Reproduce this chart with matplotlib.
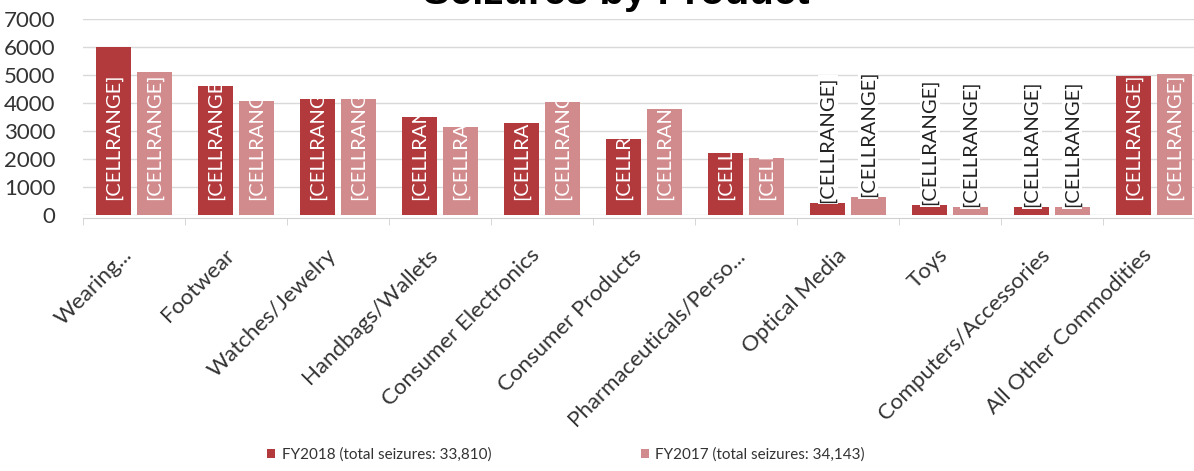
import matplotlib
matplotlib.use('Agg')
import matplotlib.pyplot as plt
import numpy as np
from matplotlib.transforms import Bbox, TransformedBbox, ScaledTranslation

categories = ['Wearing...', 'Footwear', 'Watches/Jewelry', 'Handbags/Wallets',
              'Consumer Electronics', 'Consumer Products', 'Pharmaceuticals/Perso...',
              'Optical Media', 'Toys', 'Computers/Accessories', 'All Other Commodities']
fy2018 = [6000, 4600, 4150, 3500, 3300, 2700, 2200, 430, 350, 280, 4950]
fy2017 = [5100, 4080, 4150, 3150, 4050, 3800, 2050, 630, 280, 280, 5030]
series_names = ['FY2018 (total seizures: 33,810)', 'FY2017 (total seizures: 34,143)']
label_text = '[CELLRANGE]'

c18 = '#b2393c'
c17 = '#d28b8d'

plt.rcParams['font.family'] = ['Lato', 'DejaVu Sans']

fig = plt.figure(figsize=(11.94, 4.71), dpi=100)
ax = fig.add_axes([83 / 1194, (471 - 215) / 471, 1122 / 1194, 196 / 471])

x = np.arange(len(categories))
w = 0.345
off = 0.2
bars18 = ax.bar(x - off, fy2018, w, color=c18, label=series_names[0], zorder=2)
bars17 = ax.bar(x + off, fy2017, w, color=c17, label=series_names[1], zorder=2)

ax.set_xlim(-0.5, len(categories) - 0.5)
ax.set_ylim(0, 7000)
ax.set_yticks(np.arange(0, 7001, 1000))
ax.yaxis.grid(True, color='#d9d9d9', lw=1, zorder=0)
ax.set_axisbelow(True)
for s in ['left', 'right', 'top']:
    ax.spines[s].set_visible(False)
ax.spines['bottom'].set_color('#d0d0d0')
ax.spines['bottom'].set_position(('outward', 2))
ax.tick_params(axis='y', length=0, pad=20, labelsize=16, labelcolor='#333333')

ax.set_xticks(x)
ax.set_xticklabels(categories, rotation=45, ha='right', va='top',
                   rotation_mode='anchor', fontsize=16, color='#333333')
ax.tick_params(axis='x', which='major', length=0, pad=8)
# nudge the slanted labels so their ends sit under the group centres
shift = ScaledTranslation(-12 / 100, -16 / 100, fig.dpi_scale_trans)
for lbl in ax.get_xticklabels():
    lbl.set_transform(lbl.get_transform() + shift)
ax.set_xticks(np.arange(-0.5, len(categories), 1), minor=True)
ax.tick_params(axis='x', which='minor', length=5, color='#d0d0d0')

# data labels: inside the bar base (clipped to the bar) or above short bars
lift = ScaledTranslation(0, 15 / 100, fig.dpi_scale_trans)
for bars in (bars18, bars17):
    for b in bars:
        h = b.get_height()
        cx = b.get_x() + b.get_width() / 2
        if h > 1500:
            t = ax.text(cx, 0, label_text, rotation=90, ha='center', va='bottom',
                        color='white', fontsize=14.5, zorder=3,
                        transform=ax.transData + lift)
            clip = TransformedBbox(Bbox([[b.get_x(), 0], [b.get_x() + b.get_width(), h]]), ax.transData)
            t.set_clip_box(clip)
            t.set_clip_on(True)
        else:
            ax.text(cx, h, label_text, rotation=90, ha='center', va='bottom',
                    color='#222222', fontsize=14.5, zorder=3,
                    bbox=dict(facecolor='white', edgecolor='none', pad=1))

# title sits partly above the top edge
fig.text(616 / 1194, (471 - 4) / 471, 'Seizures by Product', ha='center', va='baseline',
         fontsize=29, fontweight='bold', family='Liberation Sans')

fig.legend(handles=[bars18, bars17], labels=series_names, loc='center',
           bbox_to_anchor=(566 / 1194, (471 - 455) / 471), ncol=2, frameon=False,
           fontsize=11, handlelength=0.55, handleheight=0.55, handletextpad=0.4,
           columnspacing=9.8, labelcolor='#333333')

fig.savefig('out.png', dpi=100)
